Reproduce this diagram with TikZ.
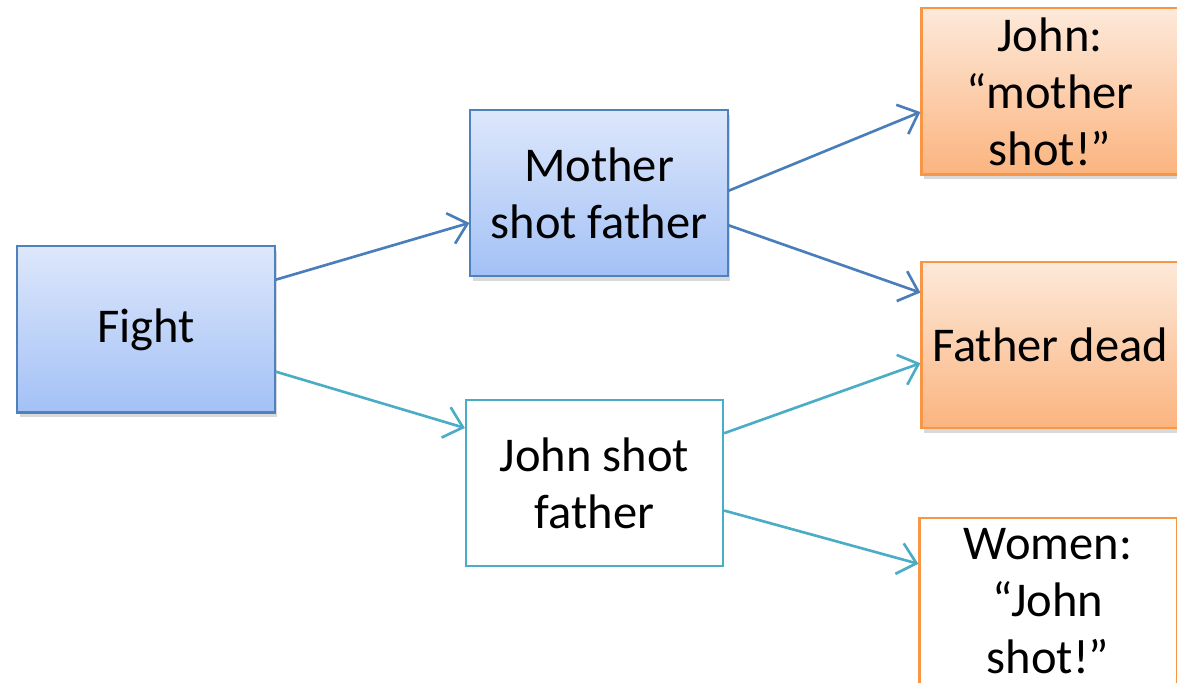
\documentclass[tikz,border=0pt]{standalone}
\usepackage{fontspec}
\setmainfont{Carlito}
\usetikzlibrary{
    arrows.meta,
    shadows
}
\definecolor{blueedge}{HTML}{4F81BD}
\definecolor{bluetop}{HTML}{DDE7FB}
\definecolor{bluebot}{HTML}{A3C1F6}
\definecolor{orangeedge}{HTML}{F79646}
\definecolor{orangetop}{HTML}{FDE9DA}
\definecolor{orangebot}{HTML}{FBB47F}
\definecolor{tealedge}{HTML}{4BACC6}
\definecolor{bluearrow}{HTML}{4A7EBB}
\tikzset{
    event/.style={
        font=\fontsize{13.8}{16.2}\selectfont, align=center, inner sep=0pt,
        minimum width=2.57cm, minimum height=1.66cm, line width=0.6pt
    },
    bluebox/.style={event, draw=blueedge, top color=bluetop, bottom color=bluebot,
        drop shadow={opacity=0.3, shadow xshift=0.6pt, shadow yshift=-1.4pt}},
    orangebox/.style={event, draw=orangeedge, top color=orangetop, bottom color=orangebot,
        drop shadow={opacity=0.3, shadow xshift=0.6pt, shadow yshift=-1.4pt}},
    tealbox/.style={event, draw=tealedge, fill=white},
    plainbox/.style={event, draw=orangeedge, fill=white},
    barrow/.style={draw=bluearrow, line width=0.75pt, -{Straight Barb[length=5pt,width=9pt]}},
    tarrow/.style={draw=tealedge, line width=0.75pt, -{Straight Barb[length=5pt,width=9pt]}}
}

\begin{document}
\begin{tikzpicture}[x=0.01cm,y=-0.01cm]
      \useasboundingbox (0,0) rectangle (1177,683);
      \clip (0,0) rectangle (1177,683);
      % events
      \node[bluebox] (fight) at (146,329.5) {Fight};
      \node[bluebox] (mother) at (599,193) {Mother\\shot father};
      \node[tealbox] (johnshot) at (594.5,483) {John shot\\father};
      \node[orangebox] (johnsays) at (1050,91.5) {John:\\“mother\\shot!”};
      \node[orangebox] (dead) at (1050,345) {Father dead};
      \node[plainbox] (women) at (1048,601) {Women:\\“John\\shot!”};
      % who says what
      \draw[barrow] (fight.21) -- (mother.193.5);
      \draw[tarrow] (fight.-18) -- (johnshot.157.6);
      \draw[barrow] (mother.1) -- (johnsays.189);
      \draw[barrow] (mother.-14) -- (dead.158.7);
      \draw[tarrow] (johnshot.21.3) -- (dead.188.4);
      \draw[tarrow] (johnshot.-12.7) -- (women.164.7);
\end{tikzpicture}
\end{document}
